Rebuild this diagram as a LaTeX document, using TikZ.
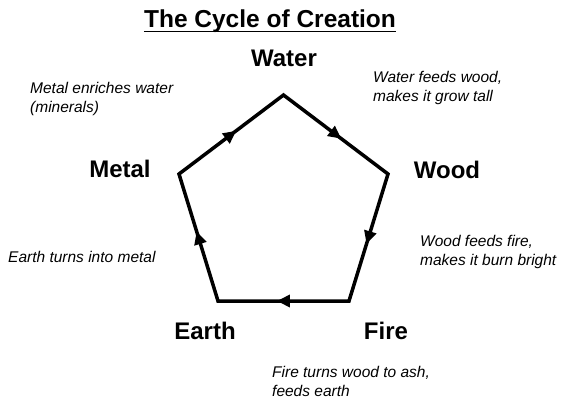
\documentclass[tikz,border=0pt]{standalone}
\usepackage{fontspec}
\setmainfont{Liberation Sans}
\usetikzlibrary{decorations.markings,arrows.meta}
\begin{document}
\begin{tikzpicture}[
        x=1pt, y=-1pt,
        elem/.style={font=\fontsize{24}{28}\selectfont\bfseries, inner sep=0pt, anchor=base},
        note/.style={font=\fontsize{15.5}{19}\selectfont\itshape, align=left, anchor=base west, inner sep=0pt},
        cyc/.style={line width=3.5pt, line join=miter,
          decoration={markings,
            mark=at position 0.11 with {\arrow{Triangle[length=13pt,width=12pt]}},
            mark=at position 0.31 with {\arrow{Triangle[length=13pt,width=12pt]}},
            mark=at position 0.51 with {\arrow{Triangle[length=13pt,width=12pt]}},
            mark=at position 0.71 with {\arrow{Triangle[length=13pt,width=12pt]}},
            mark=at position 0.91 with {\arrow{Triangle[length=13pt,width=12pt]}}},
          postaction={decorate}},
      ]
        \useasboundingbox (0,0) rectangle (568,399);

        % Title
        \node[font=\fontsize{24.5}{28}\selectfont\bfseries, inner sep=0pt, anchor=base] (title) at (270,27)
          {The Cycle of Creation};
        \draw[line width=1.6pt] ([yshift=-4.5pt]title.base west) -- ([yshift=-4.5pt]title.base east);

        % Corners of the cycle
        \coordinate (vwater) at (283.5,95);
        \coordinate (vwood)  at (388,174);
        \coordinate (vfire)  at (349,301);
        \coordinate (vearth) at (218,301);
        \coordinate (vmetal) at (179,174);

        \draw[cyc] (vwater) -- (vwood) -- (vfire) -- (vearth) -- (vmetal) -- cycle;

        % Elements
        \node[elem] (water) at (284,66)  {Water};
        \node[elem] (wood)  at (447,178) {Wood};
        \node[elem] (fire)  at (386,339) {Fire};
        \node[elem] (earth) at (205,339) {Earth};
        \node[elem] (metal) at (120,177) {Metal};

        % Notes (base = last line)
        \node[note] (nwater) at (373,101) {Water feeds wood,\\makes it grow tall};
        \node[note] (nwood)  at (420,265) {Wood feeds fire,\\makes it burn bright};
        \node[note] (nfire)  at (272,396) {Fire turns wood to ash,\\feeds earth};
        \node[note] (nearth) at (8,262)   {Earth turns into metal};
        \node[note] (nmetal) at (30,112)  {Metal enriches water\\(minerals)};
      \end{tikzpicture}
\end{document}
